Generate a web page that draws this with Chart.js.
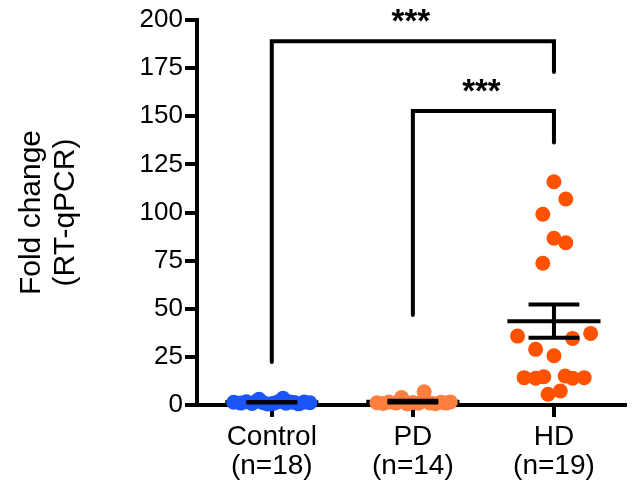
<!DOCTYPE html>
<html>
<head>
<meta charset="utf-8">
<script src="https://cdn.jsdelivr.net/npm/chart.js@4.4.1/dist/chart.umd.min.js"></script>
<style>
  body { margin: 0; background: #fff; }
</style>
</head>
<body>
<canvas id="foldChart" width="632" height="486"></canvas>
<script>
// Nhóm trên trục x
const groups = ['Control', 'PD', 'HD'];
const groupN = ['(n=18)', '(n=14)', '(n=19)'];
const yTicks = [0, 25, 50, 75, 100, 125, 150, 175, 200];

// Giá trị fold change và độ lệch ngang của từng điểm
const controlValues = [1.4, 1.0, 1.7, 0.8, 1.9, 3.0, 1.2, 0.5, 0.7, 1.1, 1.8, 3.5, 0.9, 1.6, 1.3, 0.6, 1.5, 1.2];
const controlJitter = [-0.27, -0.22, -0.18, -0.14, -0.11, -0.09, -0.06, -0.03, 0.0, 0.02, 0.05, 0.08, 0.10, 0.13, 0.16, 0.19, 0.23, 0.27];

const pdValues = [1.2, 0.8, 1.5, 1.0, 3.9, 0.6, 1.3, 0.9, 6.9, 1.1, 0.7, 1.4, 1.0, 1.6];
const pdJitter = [-0.255, -0.21, -0.17, -0.12, -0.08, -0.04, 0.0, 0.04, 0.08, 0.12, 0.16, 0.20, 0.235, 0.265];

const hdValues = [116.0, 107.0, 99.1, 86.6, 84.3, 73.6, 35.8, 34.6, 37.2, 28.9, 25.6, 14.2, 13.9, 14.7, 15.1, 13.9, 14.2, 5.6, 7.3];
const hdJitter = [0.0, 0.084, -0.079, 0.0, 0.084, -0.079, -0.258, 0.132, 0.26, -0.13, 0.0, -0.211, -0.13, -0.072, 0.079, 0.132, 0.214, -0.042, 0.045];

// Dấu so sánh: nhóm trái, nhóm phải, mức ngang, đầu chân trái/phải
const brackets = [
    { from: 1, to: 3, level: 189, leftEnd: 22.3, rightEnd: 173, label: '***' },
    { from: 2, to: 3, level: 152.7, leftEnd: 46.8, rightEnd: 136.3, label: '***' }
];

const colors = ['#1c55f7', '#ff7f40', '#ff5200'];
const fontFamily = '"Liberation Sans", Arial, sans-serif';

const allValues = [controlValues, pdValues, hdValues];
const allJitter = [controlJitter, pdJitter, hdJitter];

function meanSem(vals) {
    const n = vals.length;
    const m = vals.reduce((a, b) => a + b, 0) / n;
    const sd = Math.sqrt(vals.reduce((a, v) => a + (v - m) ** 2, 0) / (n - 1));
    return [m, sd / Math.sqrt(n)];
}

function hline(ctx, x1, x2, y) {
    ctx.beginPath();
    ctx.moveTo(x1, y);
    ctx.lineTo(x2, y);
    ctx.stroke();
}

const statsPlugin = {
    id: 'stats',
    beforeDatasetsDraw(chart) {
        const { ctx, scales: { x, y } } = chart;
        ctx.save();
        ctx.strokeStyle = '#000';
        ctx.lineWidth = 4;
        allValues.forEach((vals, i) => {
            const [m] = meanSem(vals);
            hline(ctx, x.getPixelForValue(i + 1 - 0.33), x.getPixelForValue(i + 1 + 0.33), y.getPixelForValue(m));
        });
        ctx.restore();
    },
    afterDatasetsDraw(chart) {
        const { ctx, scales: { x, y } } = chart;
        ctx.save();
        ctx.strokeStyle = '#000';
        ctx.lineWidth = 4;
        allValues.forEach((vals, i) => {
            const [m, sem] = meanSem(vals);
            const cx = x.getPixelForValue(i + 1);
            const x1 = x.getPixelForValue(i + 1 - 0.18);
            const x2 = x.getPixelForValue(i + 1 + 0.18);
            hline(ctx, x1, x2, y.getPixelForValue(m + sem));
            hline(ctx, x1, x2, y.getPixelForValue(m - sem));
            ctx.beginPath();
            ctx.moveTo(cx, y.getPixelForValue(m + sem));
            ctx.lineTo(cx, y.getPixelForValue(m - sem));
            ctx.stroke();
        });

        // dấu ngoặc ý nghĩa thống kê
        ctx.lineJoin = 'miter';
        ctx.lineCap = 'round';
        brackets.forEach(b => {
            const xl = x.getPixelForValue(b.from);
            const xr = x.getPixelForValue(b.to);
            const yl = y.getPixelForValue(b.level);
            ctx.beginPath();
            ctx.moveTo(xl, y.getPixelForValue(b.leftEnd));
            ctx.lineTo(xl, yl);
            ctx.lineTo(xr, yl);
            ctx.lineTo(xr, y.getPixelForValue(b.rightEnd));
            ctx.stroke();
            ctx.fillStyle = '#000';
            ctx.font = 'bold 33px ' + fontFamily;
            ctx.textAlign = 'center';
            ctx.textBaseline = 'alphabetic';
            ctx.fillText(b.label, (xl + xr) / 2 - 2, yl - 9);
        });
        ctx.restore();
    }
};

const datasets = allValues.map((vals, i) => ({
    label: groups[i],
    data: vals.map((v, k) => ({ x: i + 1 + allJitter[i][k], y: v })),
    backgroundColor: colors[i],
    borderWidth: 0,
    pointRadius: 7.5,
    clip: false
}));

new Chart(document.getElementById('foldChart'), {
    type: 'scatter',
    data: { datasets },
    options: {
        responsive: false,
        animation: false,
        layout: { padding: { top: 20, right: 0, left: 0, bottom: 0 } },
        plugins: { legend: { display: false }, tooltip: { enabled: false } },
        scales: {
            x: {
                type: 'linear',
                min: 0.47,
                max: 3.5,
                z: 1,
                afterBuildTicks: s => { s.ticks = groups.map((g, i) => ({ value: i + 1 })); },
                afterFit: s => { s.height = 81; },
                border: { display: true, color: '#000', width: 4 },
                grid: { drawOnChartArea: false, drawTicks: true, tickLength: 12, lineWidth: 4, color: '#000' },
                ticks: {
                    color: '#000',
                    padding: 6,
                    maxRotation: 0,
                    font: { family: fontFamily, size: 28, lineHeight: 1.02 },
                    callback: v => [groups[v - 1], groupN[v - 1]]
                }
            },
            y: {
                min: 0,
                max: 200,
                z: 1,
                afterBuildTicks: s => { s.ticks = yTicks.map(v => ({ value: v })); },
                afterFit: s => { s.width = 197; },
                border: { display: true, color: '#000', width: 4 },
                grid: { drawOnChartArea: false, drawTicks: true, tickLength: 12, lineWidth: 4, color: '#000' },
                ticks: {
                    color: '#000',
                    padding: 2,
                    font: { family: fontFamily, size: 26 }
                },
                title: {
                    display: true,
                    text: ['Fold change', '(RT-qPCR)'],
                    color: '#000',
                    padding: { top: 14, bottom: 0 },
                    font: { family: fontFamily, size: 30, lineHeight: 1.15 }
                }
            }
        }
    },
    plugins: [statsPlugin]
});
</script>
</body>
</html>
